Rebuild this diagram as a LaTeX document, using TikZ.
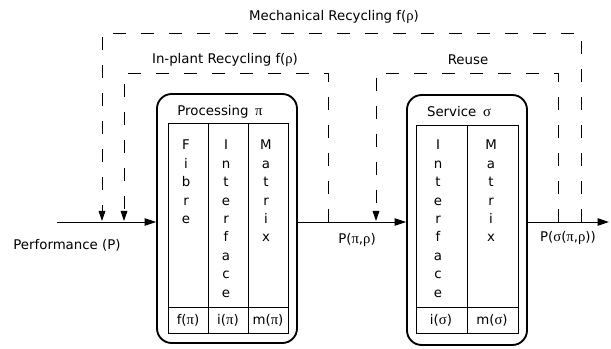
\documentclass[tikz,border=0pt]{standalone}
\usepackage{fontspec}
\setmainfont{DejaVu Sans}
\newfontfamily\grk[Scale=1.1]{Liberation Serif}
\newcommand{\gpi}{{\grk π}}
\newcommand{\gsig}{{\grk σ}}
\newcommand{\grho}{{\grk ρ}}
\usetikzlibrary{arrows.meta,fit}
\tikzset{box/.style={draw,line width=1.4pt,rounded corners=11pt,inner sep=0pt}}
\tikzset{cell/.style={line width=0.6pt}}
\tikzset{flow/.style={line width=0.7pt,-{Triangle[length=8.5pt,width=5.5pt]}}}
\tikzset{recycle/.style={line width=0.7pt,dash pattern=on 10pt off 11pt,-{Triangle[length=7.5pt,width=5pt]}}}
\tikzset{letter/.style={anchor=base,inner sep=0pt}}
\tikzset{txt/.style={inner sep=1pt}}

\begin{document}
\begin{tikzpicture}[x=0.75pt,y=-0.75pt,font=\fontsize{10}{12}\selectfont]

\useasboundingbox (0,0) rectangle (611,349);

% the two stages
\node[box,fit={(157,94) (297,343)}] (proc) {};
\node[box,fit={(407,95) (527,345)}] (serv) {};

\node[txt] (proc-title) at (220,112) {Processing\hspace{5pt}\gpi};
\node[txt] (serv-title) at (459,112) {Service\hspace{5pt}\gsig};

% tables inside
\draw[cell] (168,123) rectangle (288,333) (168,307) -- (288,307);
\foreach \x in {208,248} \draw[cell] (\x,123) -- (\x,333);
\draw[cell] (416,125) rectangle (518,333) (416,307) -- (518,307) (467,125) -- (467,333);

\foreach \x/\name/\word in {186/fib/{F,i,b,r,e},226/int/{I,n,t,e,r,f,a,c,e},266/mat/{M,a,t,r,i,x},438/sint/{I,n,t,e,r,f,a,c,e},491/smat/{M,a,t,r,i,x}}
  \foreach \l [count=\i] in \word
    \node[letter] (\name-\i) at (\x,{150+18.4*(\i-1)}) {\l};

\node[txt] (fpi) at (188,320) {f(\gpi)};
\node[txt] (ipi) at (228,320) {i(\gpi)};
\node[txt] (mpi) at (268,320) {m(\gpi)};
\node[txt] (isig) at (441,320) {i(\gsig)};
\node[txt] (msig) at (492,320) {m(\gsig)};

% main flow
\coordinate (perf) at (57,222);
\coordinate (out) at (609,222);
\draw[flow] (perf) -- (perf -| proc.west);
\draw[flow] (proc.east |- perf) -- (serv.west |- perf);
\draw[flow] (serv.east |- perf) -- (out);

\node[txt] (perf-label) at (67,245) {Performance (P)};
\node[txt] (ppr) at (357,240) {P(\gpi,\grho)};
\node[txt] (pspr) at (568,238) {P(\gsig(\gpi,\grho))};

% loops back
\coordinate (mech-a) at (581,222);
\coordinate (mech-b) at (102,221);
\coordinate (inpl-a) at (328,222);
\coordinate (inpl-b) at (124,221);
\coordinate (reuse-a) at (558,222);
\coordinate (reuse-b) at (376,221);

\draw[recycle] (mech-a) -- ++(0,-189) -| (mech-b);
\draw[recycle] (inpl-a) -- ++(0,-149) -| (inpl-b);
\draw[recycle] (reuse-a) -- ++(0,-149) -| (reuse-b);

\node[txt] (mech-label) at (334,17) {Mechanical Recycling f(\grho)};
\node[txt] (inpl-label) at (225,60) {In-plant Recycling f(\grho)};
\node[txt] (reuse-label) at (468,60) {Reuse};

\end{tikzpicture}
\end{document}
